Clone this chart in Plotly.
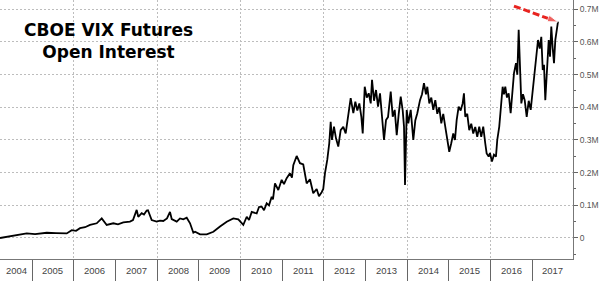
import pandas as pd
import plotly.graph_objects as go

# ---- data (decimal-year time stamps, open interest in millions of contracts) ----
t_year = [
    2004.230, 2004.470, 2004.710, 2004.870, 2005.070, 2005.350, 2005.573, 2005.830,
    2005.950, 2006.053, 2006.149, 2006.269, 2006.389, 2006.550, 2006.670, 2006.725,
    2006.789, 2006.948, 2007.060, 2007.188, 2007.348, 2007.420, 2007.509, 2007.547,
    2007.629, 2007.684, 2007.749, 2007.780, 2007.869, 2007.989, 2008.068, 2008.147,
    2008.236, 2008.308, 2008.349, 2008.469, 2008.548, 2008.627, 2008.708, 2008.788,
    2008.867, 2008.908, 2009.027, 2009.188, 2009.347, 2009.507, 2009.668, 2009.826,
    2009.946, 2010.066, 2010.148, 2010.203, 2010.268, 2010.387, 2010.443, 2010.507,
    2010.563, 2010.627, 2010.683, 2010.747, 2010.778, 2010.826, 2010.906, 2010.987,
    2011.042, 2011.107, 2011.186, 2011.234, 2011.266, 2011.347, 2011.378, 2011.426,
    2011.505, 2011.587, 2011.666, 2011.745, 2011.827, 2011.882, 2011.947, 2011.985,
    2012.026, 2012.081, 2012.129, 2012.163, 2012.194, 2012.242, 2012.290, 2012.345,
    2012.402, 2012.465, 2012.522, 2012.585, 2012.642, 2012.705, 2012.753, 2012.801,
    2012.849, 2012.897, 2012.930, 2012.978, 2013.026, 2013.074, 2013.122, 2013.153,
    2013.201, 2013.249, 2013.297, 2013.345, 2013.393, 2013.441, 2013.489, 2013.537,
    2013.602, 2013.650, 2013.698, 2013.746, 2013.794, 2013.842, 2013.890, 2013.921,
    2013.945, 2013.986, 2014.024, 2014.082, 2014.144, 2014.192, 2014.240, 2014.305,
    2014.353, 2014.400, 2014.448, 2014.480, 2014.528, 2014.576, 2014.624, 2014.672,
    2014.720, 2014.768, 2014.816, 2014.863, 2014.911, 2014.959, 2015.007, 2015.055,
    2015.103, 2015.144, 2015.185, 2015.233, 2015.281, 2015.329, 2015.360, 2015.391,
    2015.439, 2015.487, 2015.535, 2015.583, 2015.631, 2015.679, 2015.727, 2015.775,
    2015.823, 2015.871, 2015.905, 2015.953, 2015.984, 2016.032, 2016.080, 2016.128,
    2016.159, 2016.207, 2016.241, 2016.288, 2016.319, 2016.351, 2016.391, 2016.432,
    2016.480, 2016.519, 2016.559, 2016.607, 2016.639, 2016.672, 2016.703, 2016.735,
    2016.775, 2016.816, 2016.864, 2016.912, 2016.960, 2017.008, 2017.056, 2017.104,
    2017.135, 2017.176, 2017.214, 2017.248, 2017.279, 2017.310, 2017.344, 2017.392,
    2017.423, 2017.454, 2017.488, 2017.519, 2017.550, 2017.584, 2017.615,
]
open_interest_m = [
    0.000, 0.005, 0.010, 0.014, 0.012, 0.016, 0.015, 0.014,
    0.024, 0.022, 0.030, 0.033, 0.040, 0.045, 0.060, 0.052,
    0.040, 0.045, 0.042, 0.048, 0.050, 0.055, 0.086, 0.065,
    0.076, 0.072, 0.084, 0.085, 0.055, 0.050, 0.053, 0.052,
    0.060, 0.080, 0.058, 0.050, 0.060, 0.057, 0.062, 0.045,
    0.016, 0.019, 0.011, 0.011, 0.019, 0.035, 0.050, 0.060,
    0.057, 0.040, 0.065, 0.055, 0.080, 0.075, 0.095, 0.096,
    0.085, 0.106, 0.100, 0.126, 0.118, 0.167, 0.147, 0.178,
    0.165, 0.183, 0.198, 0.185, 0.223, 0.251, 0.240, 0.229,
    0.225, 0.167, 0.180, 0.137, 0.150, 0.128, 0.140, 0.150,
    0.198, 0.239, 0.290, 0.356, 0.300, 0.341, 0.305, 0.280,
    0.330, 0.340, 0.320, 0.371, 0.428, 0.382, 0.417, 0.390,
    0.412, 0.371, 0.320, 0.463, 0.430, 0.443, 0.412, 0.484,
    0.420, 0.453, 0.402, 0.443, 0.371, 0.300, 0.361, 0.370,
    0.448, 0.371, 0.392, 0.315, 0.380, 0.433, 0.390, 0.341,
    0.162, 0.392, 0.351, 0.392, 0.300, 0.360, 0.382, 0.422,
    0.440, 0.474, 0.440, 0.463, 0.412, 0.430, 0.392, 0.422,
    0.380, 0.400, 0.351, 0.380, 0.341, 0.300, 0.264, 0.290,
    0.320, 0.300, 0.361, 0.402, 0.390, 0.412, 0.443, 0.371,
    0.380, 0.330, 0.350, 0.320, 0.340, 0.310, 0.341, 0.310,
    0.341, 0.290, 0.259, 0.249, 0.260, 0.234, 0.255, 0.249,
    0.300, 0.341, 0.402, 0.463, 0.440, 0.463, 0.430, 0.443,
    0.382, 0.440, 0.504, 0.535, 0.500, 0.637, 0.504, 0.412,
    0.440, 0.422, 0.371, 0.420, 0.392, 0.453, 0.504, 0.555,
    0.606, 0.580, 0.616, 0.514, 0.530, 0.422, 0.514, 0.606,
    0.555, 0.647, 0.580, 0.535, 0.606, 0.630, 0.662,
]

y_tick_vals = [0, 0.1, 0.2, 0.3, 0.4, 0.5, 0.6, 0.7]
y_tick_text = ["0", "0.1M", "0.2M", "0.3M", "0.4M", "0.5M", "0.6M", "0.7M"]
year_labels = list(range(2004, 2018))
x_start_year, x_end_year = 2004.23, 2017.975
y_range = [-0.0643, 0.7285]

arrow_year = [2016.559, 2017.615]
arrow_val = [0.710, 0.661]

title_lines = ["CBOE VIX Futures", "Open Interest"]


def to_date(y):
    yi = int(y)
    start = pd.Timestamp(f"{yi}-01-01")
    days = (pd.Timestamp(f"{yi + 1}-01-01") - start).days
    return start + pd.Timedelta(days=(y - yi) * days)


dates = [to_date(v) for v in t_year]

fig = go.Figure()
fig.add_trace(go.Scatter(
    x=dates, y=open_interest_m, mode="lines",
    line=dict(color="#000000", width=1.8),
    hoverinfo="skip", showlegend=False,
))
fig.add_trace(go.Scatter(
    x=[to_date(v) for v in arrow_year], y=arrow_val, mode="lines+markers",
    line=dict(color="#e8231f", width=3, dash="7px,3px"),
    marker=dict(symbol=["circle", "arrow"], size=[0, 11], color="#e8231f",
                angleref="previous"),
    hoverinfo="skip", showlegend=False,
))

even_years = [pd.Timestamp(f"{y}-01-01") for y in year_labels[1:] if y % 2 == 0]
odd_years = [pd.Timestamp(f"{y}-01-01") for y in year_labels[1:] if y % 2 == 1]

# year labels centred in visible part of each year
for y in year_labels:
    lo = max(y, x_start_year)
    hi = min(y + 1, x_end_year)
    fig.add_annotation(
        x=to_date((lo + hi) / 2), y=0, xref="x", yref="paper",
        yshift=-11, text=str(y), showarrow=False,
        font=dict(family="Liberation Sans, Arial", size=9.5, color="#444444"),
        xanchor="center", yanchor="middle",
    )

fig.add_annotation(
    x=0.19, y=0.842, xref="paper", yref="paper",
    text="<b>" + "<br>".join(title_lines) + "</b>", showarrow=False,
    font=dict(family="DejaVu Sans", size=17, color="#000000"),
    xanchor="center", yanchor="middle", align="center",
)

fig.update_layout(
    width=600, height=281,
    margin=dict(l=0, r=27, t=0, b=22, pad=0),
    paper_bgcolor="white", plot_bgcolor="white",
    xaxis=dict(
        type="date",
        range=[to_date(x_start_year), to_date(x_end_year)],
        tickmode="array", tickvals=even_years, showticklabels=False,
        ticks="outside", ticklen=22, tickcolor="#666666", tickwidth=1,
        showgrid=True, gridcolor="#bdbdbd", griddash="2px,2px", gridwidth=1,
        minor=dict(tickmode="array", tickvals=odd_years, ticks="outside",
                   ticklen=22, tickcolor="#666666", tickwidth=1, showgrid=False),
        showline=True, linecolor="#777777", linewidth=1,
        zeroline=False, automargin=False, fixedrange=True,
    ),
    yaxis=dict(
        side="right", range=y_range,
        tickmode="array", tickvals=y_tick_vals, ticktext=y_tick_text,
        ticks="outside", ticklen=4, tickcolor="#666666", tickwidth=1,
        tickfont=dict(family="Liberation Sans, Arial", size=8.5, color="#555555"),
        minor=dict(tickmode="array",
                   tickvals=[-0.05, 0.05, 0.15, 0.25, 0.35, 0.45, 0.55, 0.65],
                   ticks="outside", ticklen=2, tickcolor="#666666", showgrid=False),
        showgrid=True, gridcolor="#bdbdbd", griddash="2px,2px", gridwidth=1,
        showline=True, linecolor="#777777", linewidth=1,
        zeroline=False, automargin=False, fixedrange=True,
    ),
)

fig.write_html("out.html")
